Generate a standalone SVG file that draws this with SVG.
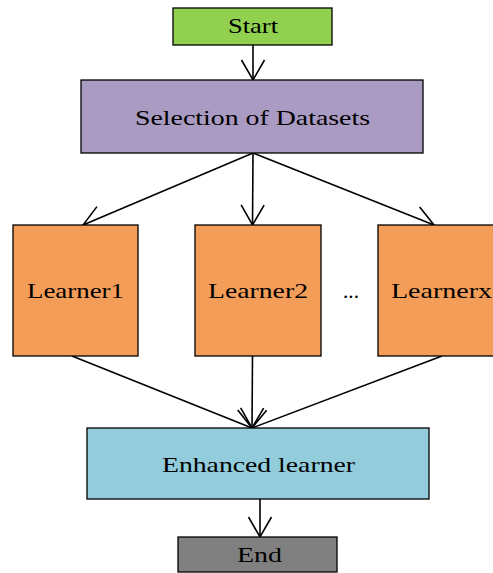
<svg xmlns="http://www.w3.org/2000/svg" width="493" height="573" viewBox="0 0 493 573">
<defs>
<style>
.box{stroke:#000;stroke-width:1.3}
.t{font-family:"Liberation Serif","Times New Roman",serif;font-size:22px;fill:#000}
.c{stroke:#000;stroke-width:1.6;fill:none;marker-end:url(#ah)}
</style>
<marker id="ah" markerUnits="userSpaceOnUse" markerWidth="1" markerHeight="1" refX="0" refY="0" orient="auto" overflow="visible">
<path d="M-20,-11.5 L0,0 L-20,11.5" fill="none" stroke="#000" stroke-width="1.6"/>
</marker>
</defs>
<rect width="493" height="573" fill="#fff"/>
<g id="connectors">
<line class="c" x1="253" y1="45" x2="253" y2="80"/>
<line class="c" x1="253" y1="153" x2="83" y2="225"/>
<line class="c" x1="253" y1="153" x2="252.5" y2="225"/>
<line class="c" x1="253" y1="153" x2="434" y2="225"/>
<line class="c" x1="72" y1="356" x2="252" y2="428"/>
<line class="c" x1="252.5" y1="356" x2="252" y2="428"/>
<line class="c" x1="442" y1="356" x2="252" y2="428"/>
<line class="c" x1="260" y1="499" x2="260" y2="537"/>
</g>
<g id="start">
<rect class="box" x="173" y="8" width="159" height="37" fill="#92D050"/>
<text class="t" x="228" y="33" textLength="50" lengthAdjust="spacingAndGlyphs">Start</text>
</g>
<g id="selection">
<rect class="box" x="81" y="80" width="342" height="73" fill="#A99BC1"/>
<text class="t" x="135" y="125" textLength="235" lengthAdjust="spacingAndGlyphs">Selection of Datasets</text>
</g>
<g id="learner1">
<rect class="box" x="13" y="225" width="125" height="131" fill="#F49D59"/>
<text class="t" x="27" y="298" textLength="97" lengthAdjust="spacingAndGlyphs">Learner1</text>
</g>
<g id="learner2">
<rect class="box" x="195" y="225" width="126" height="131" fill="#F49D59"/>
<text class="t" x="208" y="298" textLength="100" lengthAdjust="spacingAndGlyphs">Learner2</text>
</g>
<g id="dots">
<text class="t" x="343" y="298" textLength="16" lengthAdjust="spacingAndGlyphs">...</text>
</g>
<g id="learnerx">
<rect class="box" x="378" y="225" width="125" height="131" fill="#F49D59"/>
<text class="t" x="391" y="298" textLength="101" lengthAdjust="spacingAndGlyphs">Learnerx</text>
</g>
<g id="enhanced">
<rect class="box" x="87" y="428" width="342" height="71" fill="#93CDDC"/>
<text class="t" x="162" y="472" textLength="193" lengthAdjust="spacingAndGlyphs">Enhanced learner</text>
</g>
<g id="end">
<rect class="box" x="178" y="537" width="159" height="35" fill="#808080"/>
<text class="t" x="237" y="562" textLength="45" lengthAdjust="spacingAndGlyphs">End</text>
</g>
</svg>
